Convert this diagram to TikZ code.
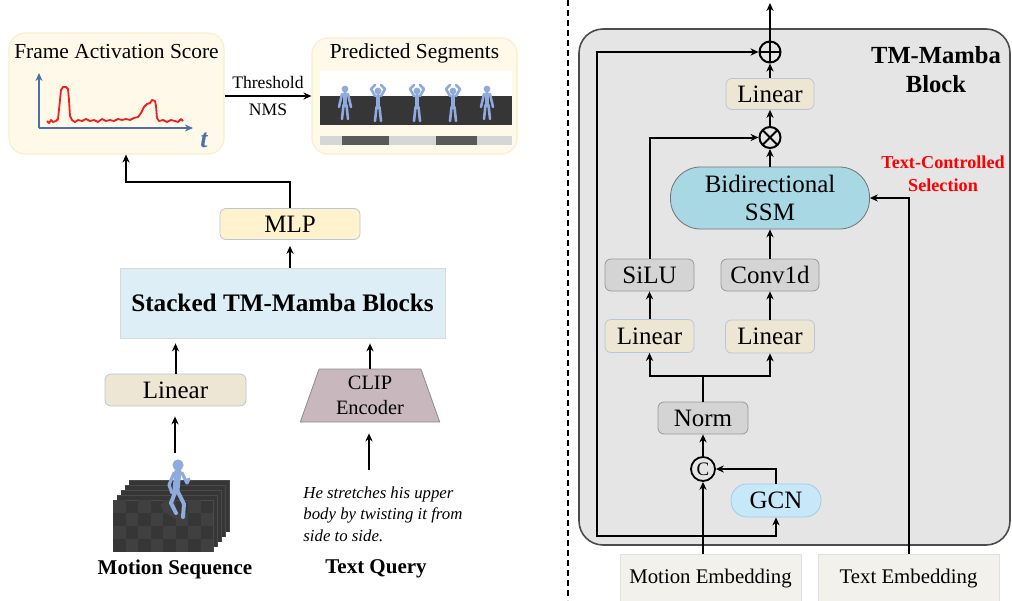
\documentclass[tikz,border=0pt]{standalone}
\usepackage{fontspec}
\setmainfont{Liberation Serif}
\usetikzlibrary{arrows.meta, positioning, shapes.geometric}
\definecolor{scorecream}{HTML}{FFF9EA}
\definecolor{scoreedge}{HTML}{FBEECB}
\definecolor{mlpyellow}{HTML}{FFF2CC}
\definecolor{edgeblue}{HTML}{B9C6D8}
\definecolor{stackblue}{HTML}{DDEEF6}
\definecolor{linbeige}{HTML}{EDE6D3}
\definecolor{clipmauve}{HTML}{C8B8BE}
\definecolor{blockgray}{HTML}{E5E5E5}
\definecolor{opgray}{HTML}{D4D4D4}
\definecolor{ssmblue}{HTML}{A8D8E4}
\definecolor{gcnblue}{HTML}{C6E8F8}
\definecolor{gcnedge}{HTML}{9CCDEB}
\definecolor{embcream}{HTML}{F3F1EC}
\definecolor{axisblue}{HTML}{4C70AA}
\definecolor{curvered}{HTML}{F01E1E}
\definecolor{meshblue}{HTML}{8FAADC}
\definecolor{floordark}{HTML}{363636}
\definecolor{floorlight}{HTML}{4A4A4A}
\definecolor{floortile}{HTML}{404040}
\definecolor{segdark}{HTML}{5A5A5A}
\definecolor{seglight}{HTML}{D6D6D6}
\newcommand{\boxfont}{\fontsize{12.5}{14}\selectfont}
% one little body: x, top y, arms (0 down, 1 up)
\newcommand{\meshman}[3]{%
    \fill[meshblue] (#1,#2+3) circle (1.7pt);
    \draw[mesh, line width=2.2pt] (#1,#2+8) -- (#1,#2+19);
    \draw[mesh] (#1-1.5,#2+19) -- (#1-3,#2+33) (#1+1.5,#2+19) -- (#1+3,#2+33);
    \ifnum#3=0
        \draw[mesh] (#1-3,#2+8) -- (#1-6,#2+21) (#1+3,#2+8) -- (#1+6,#2+21);
    \else
        \draw[mesh] (#1-3,#2+8) -- (#1-7,#2+1) -- (#1-3,#2-3) (#1+3,#2+8) -- (#1+7,#2+1) -- (#1+3,#2-3);
    \fi}
\tikzset{
    panel/.style={rectangle, rounded corners=8pt, draw=scoreedge, fill=scorecream, line width=0.6pt},
    mlpbox/.style={rectangle, rounded corners=3pt, draw=edgeblue, fill=mlpyellow, inner sep=0pt, minimum height=15.5pt, font=\boxfont},
    linbox/.style={rectangle, rounded corners=3pt, draw=edgeblue, fill=linbeige, inner sep=0pt, minimum height=16pt, font=\boxfont},
    opbox/.style={rectangle, rounded corners=3pt, draw=gray!80, fill=opgray, inner sep=0pt, minimum height=16pt, font=\boxfont},
    embbox/.style={rectangle, draw=black!12, fill=embcream, inner sep=0pt, minimum width=90.5pt, minimum height=25pt, font=\fontsize{10.4}{12}\selectfont},
    opcircle/.style={circle, draw, line width=1pt, minimum size=10.5pt, inner sep=0pt},
    arrow/.style={-{Stealth[length=4pt,width=3.6pt]}, line width=1pt},
    axis/.style={-{Stealth[length=4pt,width=3.5pt]}, line width=0.9pt, axisblue},
    mesh/.style={meshblue, line width=1.3pt, line cap=round, line join=round},
}
\begin{document}
\begin{tikzpicture}[x=0.5pt, y=-0.5pt]
    \useasboundingbox (0,0) rectangle (1012,600);
    % left: score and segments
    \node[panel, minimum width=107.5pt, minimum height=60.5pt] (score) at (116.5,93.5) {};
    \node[font=\fontsize{10.7}{12}\selectfont] (scoretitle) at (116.5,52) {Frame Activation Score};
    \draw[axis] (39,128) -- (39,73);
    \draw[axis] (39,128) -- (193,128);
    \node[axisblue, font=\bfseries\itshape\fontsize{13}{13}\selectfont] (tlabel) at (204,140) {t};
    \draw[curvered, line width=0.9pt, line join=round] plot coordinates {(47,121) (49,123) (51,120) (53,122) (56,121) (58,119) (60,100) (61,90) (63,87) (66,87) (68,89) (69,100) (70,116) (72,120) (75,122) (78,120) (82,121) (86,119) (90,121) (94,120) (98,122) (102,119) (106,121) (110,120) (114,121) (118,119) (122,120) (126,119) (130,120) (134,118) (138,117) (141,113) (144,107) (147,104) (150,103) (152,100) (155,101) (156,106) (157,118) (159,121) (163,120) (167,122) (171,120) (175,121) (178,122) (181,119) (183,121)};
    \node[panel, minimum width=102.5pt, minimum height=58pt] (seg) at (414.5,96) {};
    \node[font=\fontsize{10.7}{12}\selectfont] (segtitle) at (414.5,53) {Predicted Segments};
    \fill[white] (320,71) rectangle (512,125);
    \fill[floordark] (320,96) rectangle (512,125);
    \meshman{345}{86}{0}
    \meshman{378}{88}{1}
    \meshman{417}{88}{1}
    \meshman{453}{88}{1}
    \meshman{487}{86}{0}
    \fill[seglight] (320,136) rectangle (512,145);
    \fill[segdark] (342,136) rectangle (389,145);
    \fill[segdark] (436,136) rectangle (477,145);
    \draw[arrow] (score.east |- seg.west) -- (seg.west)
        node[midway, above, font=\fontsize{8.8}{10}\selectfont] {Threshold}
        node[midway, below, font=\fontsize{8.8}{10}\selectfont] {NMS};
    % left: main path
    \node[mlpbox, minimum width=70pt] (mlp) at (290,224) {MLP};
    \node[rectangle, draw=black!15, fill=stackblue, minimum width=162.5pt, minimum height=35pt, font=\bfseries\fontsize{12.6}{14}\selectfont] (stack) at (282.5,303) {Stacked TM-Mamba Blocks};
    \node[linbox, minimum width=70.5pt] (lin) at (175.5,390) {Linear};
    \node[trapezium, trapezium stretches=true, trapezium angle=72, minimum width=70pt, minimum height=26.5pt, draw=black!45, fill=clipmauve, inner sep=0pt, align=center, font=\fontsize{10.2}{12.5}\selectfont] (clip) at (370,395.5) {CLIP\\Encoder};
    \coordinate (turn) at (126,182);
    \coordinate (mtop) at (175,453);
    \coordinate (qtop) at (369,470);
    \draw[arrow] (mlp.north) |- (turn) -- (turn |- score.south);
    \draw[arrow, shorten >=3pt] (mlp.south |- stack.north) -- (mlp.south);
    \draw[arrow, shorten >=2.5pt] (lin.north) -- (lin.north |- stack.south);
    \draw[arrow, shorten >=2.5pt] (clip.north) -- (clip.north |- stack.south);
    \draw[arrow, shorten >=5pt] (mtop) -- (mtop |- lin.south);
    \draw[arrow, shorten >=5.5pt] (qtop) -- (qtop |- clip.south);
    % motion frames
    \foreach \k in {4,3,2,1,0} {
        \fill[floordark] (113+4*\k,500-5*\k) rectangle (213+4*\k,552-5*\k);
        \draw[floorlight, line width=0.4pt] (113+4*\k,500-5*\k) -- (213+4*\k,500-5*\k) -- (213+4*\k,552-5*\k);
    }
    \foreach \i in {0,...,7} {
        \foreach \j in {0,...,3} {
            \pgfmathtruncatemacro\tile{mod(\i+\j,2)}
            \ifnum\tile=0 \fill[floortile] (113+12.5*\i,500+13*\j) rectangle (125.5+12.5*\i,513+13*\j); \fi
        }
    }
    \fill[black!75, rotate around={-35:(172,512)}] (172,512) ellipse (7pt and 2pt);
    \fill[meshblue] (178,465) circle (2.8pt);
    \draw[mesh, line width=3.5pt] (178,471) -- (176,490);
    \draw[mesh, line width=2pt] (176,490) -- (171,503) -- (176,513) (177,490) -- (184,504) -- (183,517);
    \draw[mesh, line width=1.6pt] (174,473) -- (169,485) -- (172,493) (182,473) -- (187,483) -- (189,479);
    \node[font=\bfseries\fontsize{10.5}{12}\selectfont] (motionlabel) at (175,569) {Motion Sequence};
    \node[font=\itshape\fontsize{8.4}{10.75}\selectfont, align=left, anchor=north west, inner sep=0pt] (query) at (303,486) {He stretches his upper\\body by twisting it from\\side to side.};
    \node[font=\bfseries\fontsize{10.5}{12}\selectfont] (querylabel) at (376,569) {Text Query};
    \draw[dash pattern=on 3pt off 2pt, line width=0.6pt] (568,0) -- (568,600);
    % right: TM-Mamba block
    \node[rectangle, rounded corners=12pt, draw=black!70, fill=blockgray, line width=0.8pt, minimum width=215.5pt, minimum height=258pt] (tm) at (794.5,287) {};
    \node[font=\bfseries\fontsize{12.3}{14.5}\selectfont, align=center] (tmtitle) at (936,69.5) {TM-Mamba\\Block};
    \node[font=\bfseries\fontsize{9.1}{11.5}\selectfont, align=center, text=red] (tcs) at (943,173.5) {Text-Controlled\\Selection};
    \node[opcircle, path picture={\draw[line width=1pt] (path picture bounding box.north) -- (path picture bounding box.south) (path picture bounding box.west) -- (path picture bounding box.east);}] (plus) at (770,52) {};
    \node[linbox, minimum width=44pt, minimum height=15.5pt] (lintop) at (770,94) {Linear};
    \node[opcircle, path picture={\draw[line width=1pt] (path picture bounding box.north west) -- (path picture bounding box.south east) (path picture bounding box.south west) -- (path picture bounding box.north east);}] (mul) at (770,137.5) {};
    \node[rectangle, rounded corners=15pt, draw=black!55, fill=ssmblue, inner sep=0pt, minimum width=99.5pt, minimum height=31pt, align=center, font=\fontsize{12.5}{14}\selectfont] (ssm) at (770,198) {Bidirectional\\SSM};
    \node[opbox, minimum width=44.5pt] (silu) at (649.5,275) {SiLU};
    \node[opbox, minimum width=49pt] (conv) at (770,275) {Conv1d};
    \node[linbox, minimum width=44.5pt, minimum height=16.5pt] (linl) at (649.5,336) {Linear};
    \node[linbox, minimum width=44.5pt, minimum height=16.5pt] (linr) at (770,336.5) {Linear};
    \node[opbox, minimum width=45pt] (norm) at (703,418) {Norm};
    \node[opcircle, line width=0.9pt, minimum size=12pt, font=\fontsize{9.5}{9.5}\selectfont] (cat) at (703,469) {C};
    \node[rectangle, rounded corners=8pt, draw=gcnedge, fill=gcnblue, inner sep=0pt, minimum width=45pt, minimum height=16.5pt, font=\boxfont] (gcn) at (776,500.5) {GCN};
    \node[embbox] (memb) at (710.5,579) {Motion Embedding};
    \node[embbox] (temb) at (908.5,579) {Text Embedding};
    \coordinate (out) at (770,3);
    \coordinate (split) at (703,536);
    \coordinate (skip) at (597,536);
    \draw[arrow] (plus.north) -- (out);
    \draw[arrow] (lintop.north) -- (plus.south);
    \draw[arrow] (mul.north) -- (lintop.south);
    \draw[arrow] (ssm.north) -- (mul.south);
    \draw[arrow] (conv.north) -- (ssm.south);
    \draw[arrow] (linr.north) -- (conv.south);
    \draw[arrow] (linl.north) -- (silu.south);
    \draw[arrow] (silu.north) |- (mul.west);
    \draw[arrow] (norm.north) -- ++(0,-26) -| (linl.south);
    \draw[arrow] (norm.north) -- ++(0,-26) -| (linr.south);
    \draw[arrow] (cat.north) -- (norm.south);
    \draw[arrow] (gcn.north) |- (cat.east);
    \draw[arrow] (cat |- memb.north) -- (cat.south);
    \draw[arrow] (split) -| (gcn.south);
    \draw[arrow] (split) -- (skip) |- (plus.west);
    \draw[arrow] (temb.north) |- (ssm.east);
\end{tikzpicture}
\end{document}
